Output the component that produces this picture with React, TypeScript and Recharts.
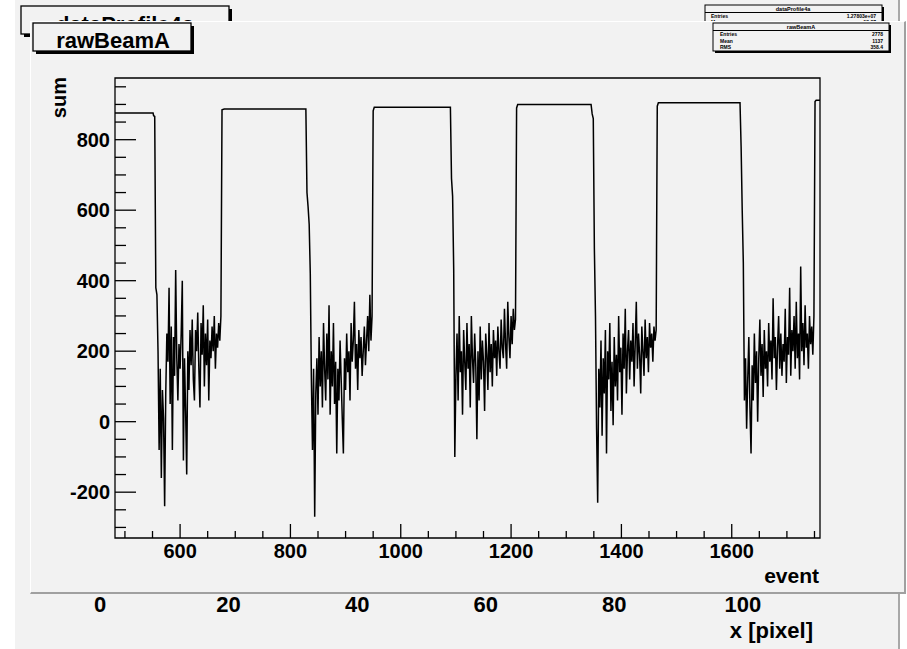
import { LineChart, Line, XAxis, YAxis, ReferenceArea } from 'recharts'

const BG = '#f2f2f2'
const FONT = '"Liberation Sans", Arial, Helvetica, sans-serif'

// flat (beam-off) stretches of the trace, [event, sum]
const plateauPoints: [number, number][] = [
  [482, 876], [551, 876], [552, 868], [554, 866],
  [676, 885], [680, 887], [828, 887],
  [950, 882], [952, 892], [1090, 892],
  [1210, 890], [1212, 900], [1345, 900], [1347, 873],
  [1465, 895], [1467, 905], [1615, 905],
  [1751, 908], [1753, 912], [1760, 912],
]

// noisy stretches, one value every STEP events from the start event
const STEP = 2
const burst1Start = 556
const burst1 = [
  380, 360, 200, -80, 150, -160, 90, 10, -240, 80, 250, 170, 380, 50, 270, -80, 240, 130, 430, 180,
  60, 220, 150, 250, 400, -110, 180, 30, -150, 200, 90, 260, 160, 290, 120, 60, 260, 200, 310, 150,
  40, 280, 190, 330, 100, 250, 160, 290, 60, 230, 180, 270, 200, 300, 150, 250, 210, 280, 230, 300,
]
const burst2Start = 830
const burst2 = [
  650, 610, 560, 420, 120, -80, 150, -270, 80, 180, 20, 240, 100, 200, 40, 280, 150, 60, 250, 120,
  330, 20, 200, 100, 280, 50, 170, -90, 150, 60, 230, 120, 10, -90, 180, 90, 250, 140, 200, 60,
  280, 170, 230, 340, 150, 220, 90, 260, 180, 240, 130, 200, 270, 160, 230, 300, 200, 360, 230, 300,
]
const burst3Start = 1092
const burst3 = [
  690, 640, 430, -100, 130, 250, 60, 300, 140, 200, 20, 260, 170, 90, 280, 150, 220, 40, 300, 180,
  110, 250, 160, -50, 200, 60, 270, 120, 230, 170, 30, 250, 190, 90, 280, 140, 220, 100, 260, 180,
  230, 130, 270, 200, 150, 290, 210, 180, 320, 220, 150, 340, 240, 180, 300, 220, 320, 260, 290,
]
const burst4Start = 1349
const burst4 = [
  860, 490, 300, -20, -230, 150, 40, 230, -40, 180, 80, 260, -90, 200, 120, 280, 30, 170, -10, 240,
  100, 190, 60, 300, 140, 210, 20, 250, 150, 320, 80, 200, 260, 120, 230, 170, 280, 100, 220, 340,
  150, 250, 190, 80, 270, 200, 130, 290, 180, 240, 140, 280, 210, 250, 170, 270, 230, 260,
]
const burst5Start = 1617
const burst5 = [
  780, 600, 450, 60, 180, -20, 120, 240, 40, -90, 160, 60, 250, 110, 200, 0, 180, 290, 130, 220,
  70, 260, 150, 200, 100, 280, 170, 230, 120, 350, 180, 240, 90, 210, 300, 150, 250, 130, 220, 170,
  320, 110, 240, 190, 380, 130, 260, 200, 300, 150, 340, 180, 250, 120, 440, 200, 280, 160, 330, 210,
  250, 150, 300, 220, 270, 190, 300,
]

const yTicks = [-300, -250, -200, -150, -100, -50, 0, 50, 100, 150, 200, 250, 300, 350, 400, 450, 500, 550, 600, 650, 700, 750, 800, 850, 900, 950]
const xTicks = [500, 550, 600, 650, 700, 750, 800, 850, 900, 950, 1000, 1050, 1100, 1150, 1200, 1250, 1300, 1350, 1400, 1450, 1500, 1550, 1600, 1650, 1700, 1750]
const backTicks = [0, 20, 40, 60, 80, 100]

const bursts: [number, number[]][] = [
  [burst1Start, burst1], [burst2Start, burst2], [burst3Start, burst3], [burst4Start, burst4], [burst5Start, burst5],
]

const data = [
  ...plateauPoints.map(([event, sum]) => ({ event, sum })),
  ...bursts.flatMap(([start, vals]) => vals.map((sum, i) => ({ event: start + i * STEP, sum }))),
].sort((a, b) => a.event - b.event)

const backData = [{ px: 0, v: 0 }, { px: 110, v: 0 }]

// plot box inside the main chart svg
const PLOT_L = 85
const PLOT_B = 516

function YTick(props: any) {
  const { y, payload } = props
  const v = payload.value
  const major = v % 200 === 0
  return (
    <g>
      <line x1={PLOT_L} x2={PLOT_L + (major ? 21 : 11)} y1={y} y2={y} stroke="#000" strokeWidth={1.3} />
      {major && (
        <text x={PLOT_L - 5} y={y + 7} textAnchor="end" fontFamily={FONT} fontWeight="bold" fontSize={20} fill="#000">
          {v}
        </text>
      )}
    </g>
  )
}

function XTick(props: any) {
  const { x, payload } = props
  const v = payload.value
  const major = v % 200 === 0
  return (
    <g>
      <line x1={x} x2={x} y1={PLOT_B} y2={PLOT_B - (major ? 14 : 7)} stroke="#000" strokeWidth={1.3} />
      {major && (
        <text x={x} y={PLOT_B + 20} textAnchor="middle" fontFamily={FONT} fontWeight="bold" fontSize={20} fill="#000">
          {v}
        </text>
      )}
    </g>
  )
}

function BackTick(props: any) {
  const { x, payload } = props
  return (
    <text x={x} y={52} textAnchor="middle" fontFamily={FONT} fontWeight="bold" fontSize={22} fill="#000">
      {payload.value}
    </text>
  )
}

const abs = (left: number, top: number, extra: any = {}) => ({ position: 'absolute' as const, left, top, ...extra })

export default function App() {
  return (
    <div style={abs(0, 0, { width: 907, height: 649, background: '#fff', overflow: 'hidden' })}>
      {/* canvas behind */}
      <div style={abs(15, 0, { width: 885, height: 649, background: BG, borderRight: '2px solid #a8a8a8', boxSizing: 'border-box' })} />
      <svg width={907} height={649} style={abs(0, 0)}>
        <rect x={24} y={9} width={208} height={28} fill="#000" />
        <rect x={21} y={6} width={208} height={28} fill={BG} stroke="#000" strokeWidth={1.3} />
        <text x={125} y={32} textAnchor="middle" fontFamily={FONT} fontWeight="bold" fontSize={22}>dataProfile4a</text>
        <rect x={707} y={7} width={177} height={28} fill="#000" />
        <rect x={705} y={5} width={177} height={28} fill={BG} stroke="#000" strokeWidth={1} />
        <line x1={705} x2={882} y1={12.5} y2={12.5} stroke="#000" strokeWidth={1} />
        <text x={793} y={11} textAnchor="middle" fontFamily={FONT} fontWeight="bold" fontSize={5.5}>dataProfile4a</text>
        <text x={711} y={18} fontFamily={FONT} fontWeight="bold" fontSize={5}>Entries</text>
        <text x={876} y={18} textAnchor="end" fontFamily={FONT} fontWeight="bold" fontSize={5}>1.27803e+07</text>
        <text x={711} y={24} fontFamily={FONT} fontWeight="bold" fontSize={5}>Mean</text>
        <text x={876} y={24} textAnchor="end" fontFamily={FONT} fontWeight="bold" fontSize={5}>58.27</text>
        <text x={813} y={638} textAnchor="end" fontFamily={FONT} fontWeight="bold" fontSize={22}>x [pixel]</text>
      </svg>
      <div style={abs(0, 560)}>
        <LineChart width={907} height={60} data={backData} margin={{ top: 0, right: 96, bottom: 0, left: 100 }}>
          <XAxis dataKey="px" type="number" domain={[0, 110.6]} ticks={backTicks} interval={0} height={59} axisLine={false} tickLine={false} tick={(p: any) => <BackTick {...p} />} />
          <YAxis hide domain={[0, 1]} />
          <Line dataKey="v" stroke="none" dot={false} isAnimationActive={false} />
        </LineChart>
      </div>

      {/* front canvas */}
      <div style={abs(30, 21, { width: 876, height: 573, background: BG, boxSizing: 'border-box', borderTop: '1px solid #fff', borderLeft: '1px solid #fff', borderRight: '2px solid #a0a0a0', borderBottom: '2px solid #a0a0a0' })} />
      <div style={abs(30, 22)}>
        <LineChart width={875} height={571} data={data} margin={{ top: 56, right: 85, bottom: 0, left: 0 }}>
          <XAxis dataKey="event" type="number" domain={[482, 1760]} ticks={xTicks} interval={0} height={55} axisLine={false} tickLine={false} allowDataOverflow tick={(p: any) => <XTick {...p} />} />
          <YAxis type="number" domain={[-330, 975]} ticks={yTicks} interval={0} width={85} axisLine={false} tickLine={false} allowDataOverflow tick={(p: any) => <YTick {...p} />} />
          <ReferenceArea x1={482} x2={1760} y1={-330} y2={975} fill="none" stroke="#000" strokeWidth={1.3} />
          <Line dataKey="sum" type="linear" stroke="#000" strokeWidth={1.5} dot={false} isAnimationActive={false} />
        </LineChart>
      </div>
      <svg width={907} height={649} style={abs(0, 0, { pointerEvents: 'none' })}>
        <rect x={36} y={26} width={158} height={28} fill="#000" />
        <rect x={33} y={23} width={158} height={28} fill={BG} stroke="#000" strokeWidth={1.3} />
        <text x={113} y={47.5} textAnchor="middle" fontFamily={FONT} fontWeight="bold" fontSize={22}>rawBeamA</text>
        <rect x={715} y={25} width={176} height={28} fill="#000" />
        <rect x={713} y={23} width={176} height={28} fill={BG} stroke="#000" strokeWidth={1} />
        <line x1={713} x2={889} y1={30.5} y2={30.5} stroke="#000" strokeWidth={1} />
        <text x={801} y={29} textAnchor="middle" fontFamily={FONT} fontWeight="bold" fontSize={5.5}>rawBeamA</text>
        <text x={720} y={36} fontFamily={FONT} fontWeight="bold" fontSize={5}>Entries</text>
        <text x={883} y={36} textAnchor="end" fontFamily={FONT} fontWeight="bold" fontSize={5}>2778</text>
        <text x={720} y={42.5} fontFamily={FONT} fontWeight="bold" fontSize={5}>Mean</text>
        <text x={883} y={42.5} textAnchor="end" fontFamily={FONT} fontWeight="bold" fontSize={5}>1137</text>
        <text x={720} y={49} fontFamily={FONT} fontWeight="bold" fontSize={5}>RMS</text>
        <text x={883} y={49} textAnchor="end" fontFamily={FONT} fontWeight="bold" fontSize={5}>358.4</text>
        <text transform="translate(66,77) rotate(-90)" textAnchor="end" fontFamily={FONT} fontWeight="bold" fontSize={20}>sum</text>
        <text x={819} y={583} textAnchor="end" fontFamily={FONT} fontWeight="bold" fontSize={21}>event</text>
      </svg>
    </div>
  )
}
